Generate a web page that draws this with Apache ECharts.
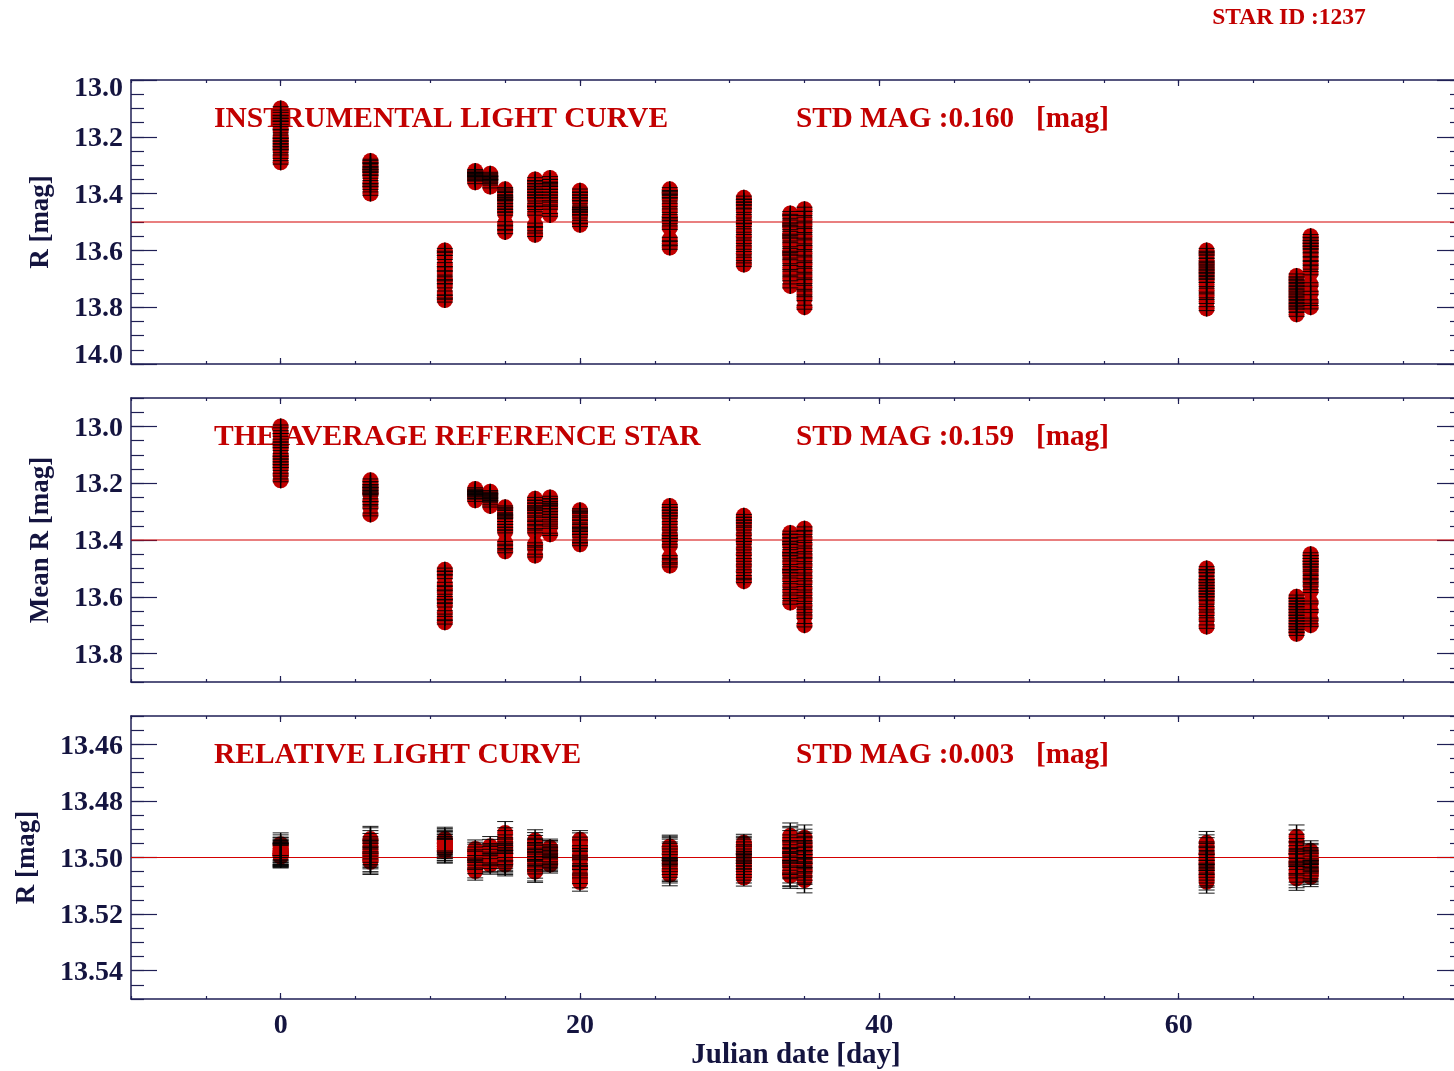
<!DOCTYPE html>
<html>
<head>
<meta charset="utf-8">
<title>STAR ID 1237 light curves</title>
<script src="https://cdn.jsdelivr.net/npm/echarts@6/dist/echarts.min.js"></script>
<style>
  html, body { margin: 0; padding: 0; background: #ffffff; overflow: hidden; }
  #chart { width: 1480px; height: 1071px; }
</style>
</head>
<body>
<div id="chart"></div>
<script>
// Observing nights (days from the first night)
const nightDays = [0.0, 6.0, 10.97, 13.0, 14.0, 15.0, 17.0, 18.0, 20.0, 26.0, 30.95, 34.05, 35.0, 61.87, 67.88, 68.82];

// Instrumental R magnitudes of the target, one list per night
const instMag = [
  [13.10, 13.12, 13.13, 13.14, 13.15, 13.17, 13.18, 13.20, 13.21, 13.22, 13.23, 13.24, 13.25, 13.27, 13.29],
  [13.285, 13.29, 13.30, 13.31, 13.315, 13.32, 13.33, 13.34, 13.36, 13.37, 13.38, 13.40],
  [13.60, 13.61, 13.625, 13.65, 13.665, 13.68, 13.70, 13.71, 13.725, 13.75, 13.765, 13.775],
  [13.32, 13.325, 13.33, 13.33, 13.335, 13.34, 13.345, 13.35, 13.36],
  [13.33, 13.335, 13.34, 13.345, 13.345, 13.35, 13.355, 13.36, 13.375],
  [13.385, 13.39, 13.40, 13.41, 13.415, 13.42, 13.43, 13.44, 13.45, 13.46, 13.47, 13.505, 13.52, 13.535],
  [13.35, 13.36, 13.37, 13.38, 13.39, 13.40, 13.41, 13.42, 13.44, 13.45, 13.47, 13.51, 13.525, 13.545],
  [13.345, 13.355, 13.365, 13.37, 13.38, 13.39, 13.40, 13.41, 13.42, 13.435, 13.45, 13.475],
  [13.39, 13.40, 13.41, 13.42, 13.43, 13.45, 13.455, 13.46, 13.47, 13.48, 13.50, 13.51],
  [13.385, 13.395, 13.40, 13.41, 13.42, 13.44, 13.46, 13.48, 13.49, 13.50, 13.52, 13.56, 13.575, 13.59],
  [13.415, 13.425, 13.435, 13.445, 13.46, 13.48, 13.50, 13.51, 13.53, 13.55, 13.57, 13.59, 13.61, 13.63, 13.65],
  [13.47, 13.48, 13.50, 13.51, 13.52, 13.54, 13.55, 13.56, 13.58, 13.60, 13.61, 13.62, 13.64, 13.66, 13.68, 13.70, 13.725],
  [13.455, 13.47, 13.49, 13.51, 13.53, 13.55, 13.57, 13.59, 13.61, 13.63, 13.65, 13.67, 13.69, 13.71, 13.73, 13.75, 13.77, 13.80],
  [13.60, 13.61, 13.62, 13.635, 13.645, 13.655, 13.665, 13.675, 13.685, 13.695, 13.705, 13.72, 13.74, 13.76, 13.78, 13.805],
  [13.69, 13.70, 13.71, 13.72, 13.73, 13.74, 13.75, 13.76, 13.77, 13.78, 13.79, 13.80, 13.81, 13.825],
  [13.55, 13.56, 13.57, 13.58, 13.59, 13.60, 13.615, 13.63, 13.645, 13.66, 13.68, 13.72, 13.75, 13.78, 13.80]
];

// Mean R magnitude of the comparison stars, one list per night
const refMag = [
  [13.00, 13.02, 13.03, 13.05, 13.06, 13.07, 13.08, 13.10, 13.11, 13.12, 13.13, 13.14, 13.15, 13.17, 13.19],
  [13.19, 13.20, 13.21, 13.215, 13.22, 13.23, 13.235, 13.24, 13.26, 13.27, 13.285, 13.31],
  [13.505, 13.515, 13.53, 13.555, 13.57, 13.585, 13.605, 13.615, 13.63, 13.655, 13.675, 13.69],
  [13.22, 13.225, 13.23, 13.235, 13.235, 13.24, 13.245, 13.25, 13.26],
  [13.23, 13.235, 13.24, 13.245, 13.25, 13.255, 13.26, 13.265, 13.28],
  [13.285, 13.29, 13.30, 13.31, 13.315, 13.32, 13.33, 13.34, 13.35, 13.36, 13.37, 13.41, 13.425, 13.44],
  [13.255, 13.265, 13.275, 13.285, 13.29, 13.30, 13.31, 13.325, 13.34, 13.355, 13.37, 13.415, 13.43, 13.455],
  [13.25, 13.26, 13.27, 13.275, 13.285, 13.295, 13.305, 13.315, 13.325, 13.34, 13.355, 13.38],
  [13.295, 13.30, 13.31, 13.325, 13.335, 13.35, 13.36, 13.365, 13.375, 13.385, 13.405, 13.415],
  [13.28, 13.29, 13.30, 13.31, 13.32, 13.34, 13.36, 13.38, 13.39, 13.40, 13.42, 13.46, 13.475, 13.49],
  [13.315, 13.325, 13.335, 13.345, 13.36, 13.38, 13.40, 13.41, 13.43, 13.45, 13.47, 13.49, 13.51, 13.53, 13.545],
  [13.375, 13.385, 13.40, 13.41, 13.42, 13.44, 13.45, 13.46, 13.48, 13.50, 13.51, 13.52, 13.54, 13.56, 13.58, 13.60, 13.62],
  [13.36, 13.375, 13.395, 13.415, 13.435, 13.455, 13.47, 13.49, 13.51, 13.53, 13.55, 13.57, 13.59, 13.61, 13.63, 13.65, 13.67, 13.70],
  [13.50, 13.51, 13.52, 13.535, 13.545, 13.555, 13.565, 13.575, 13.585, 13.595, 13.605, 13.62, 13.64, 13.66, 13.68, 13.705],
  [13.60, 13.61, 13.62, 13.63, 13.64, 13.65, 13.66, 13.67, 13.68, 13.69, 13.70, 13.71, 13.72, 13.73],
  [13.45, 13.46, 13.47, 13.48, 13.49, 13.50, 13.515, 13.53, 13.545, 13.56, 13.58, 13.62, 13.65, 13.68, 13.70]
];

// Differential (relative) R magnitudes, one list per night
const relMag = [
  [13.4995, 13.4990, 13.4985, 13.4960, 13.4975, 13.4988, 13.4997, 13.4980, 13.4992, 13.4970, 13.4953, 13.4985, 13.4978, 13.4990, 13.4968],
  [13.4995, 13.4960, 13.5010, 13.4940, 13.4985, 13.4972, 13.5005, 13.4950, 13.4990, 13.4935, 13.4980, 13.5015],
  [13.4960, 13.4945, 13.4975, 13.4950, 13.4935, 13.4968, 13.4955, 13.4978, 13.4940, 13.4962, 13.4948, 13.4970],
  [13.5010, 13.4985, 13.5040, 13.4970, 13.5025, 13.4995, 13.5048, 13.5005, 13.4978],
  [13.5005, 13.4960, 13.5020, 13.4985, 13.5015, 13.4970, 13.4995, 13.5025, 13.4990],
  [13.4990, 13.5020, 13.4960, 13.5010, 13.4913, 13.4985, 13.5025, 13.4975, 13.5005, 13.4945, 13.4998, 13.4970, 13.5015, 13.4935],
  [13.5020, 13.4960, 13.5045, 13.4990, 13.4940, 13.5010, 13.4975, 13.5035, 13.4985, 13.4950, 13.5005, 13.4995, 13.5050, 13.4970],
  [13.5000, 13.4975, 13.5020, 13.4990, 13.5010, 13.4965, 13.5025, 13.4985, 13.5005, 13.4970, 13.5015, 13.4995],
  [13.4990, 13.5040, 13.4945, 13.5010, 13.5087, 13.4970, 13.5030, 13.4937, 13.5060, 13.5000, 13.4960, 13.5075],
  [13.5000, 13.4965, 13.5040, 13.4985, 13.5060, 13.4975, 13.5020, 13.4961, 13.5050, 13.4990, 13.5030, 13.4970, 13.5010, 13.5045],
  [13.5010, 13.4960, 13.5050, 13.4990, 13.5071, 13.4948, 13.5030, 13.4975, 13.5060, 13.5000, 13.4965, 13.5040, 13.4985, 13.5020, 13.4955],
  [13.5000, 13.4940, 13.5055, 13.4975, 13.5030, 13.4923, 13.5064, 13.4990, 13.5015, 13.4950, 13.5045, 13.4965, 13.5025, 13.4985, 13.5058, 13.4935, 13.5010],
  [13.5005, 13.4960, 13.5050, 13.4985, 13.5080, 13.4930, 13.5035, 13.4970, 13.5020, 13.4945, 13.5065, 13.4990, 13.5010, 13.4955, 13.5045, 13.4975, 13.5025, 13.4995],
  [13.5000, 13.5040, 13.4960, 13.5075, 13.4985, 13.5020, 13.5060, 13.4948, 13.5030, 13.5086, 13.4990, 13.5050, 13.4970, 13.5015, 13.5065, 13.5005],
  [13.5000, 13.4945, 13.5055, 13.4975, 13.5074, 13.4927, 13.5030, 13.4990, 13.5045, 13.4960, 13.5015, 13.5065, 13.4985, 13.5020],
  [13.5010, 13.5040, 13.4976, 13.5055, 13.5000, 13.5068, 13.4990, 13.5030, 13.5015, 13.5060, 13.4985, 13.5045, 13.5020, 13.5005, 13.5050]
];

// Typical photometric error per night [mag]
const instErr = [0.006, 0.006, 0.007, 0.005, 0.005, 0.006, 0.006, 0.005, 0.006, 0.006, 0.006, 0.007, 0.007, 0.007, 0.007, 0.006];
const refErr  = [0.005, 0.005, 0.006, 0.004, 0.004, 0.005, 0.005, 0.004, 0.005, 0.005, 0.005, 0.006, 0.006, 0.006, 0.006, 0.005];
const relErr  = [0.0040, 0.0045, 0.0042, 0.0032, 0.0034, 0.0040, 0.0038, 0.0030, 0.0032, 0.0040, 0.0030, 0.0045, 0.0045, 0.0040, 0.0042, 0.0035];

// Panel captions and statistics
const panelTitles = ['INSTRUMENTAL LIGHT CURVE', 'THE AVERAGE REFERENCE STAR', 'RELATIVE LIGHT CURVE'];
const stdMag = ['0.160', '0.159', '0.003'];
const yNames = ['R [mag]', 'Mean R [mag]', 'R [mag]'];
const starId = '1237';

// Axis ranges and tick labels
const dayRange = [-10, 79];
const dayTicks = [0, 20, 40, 60];
const yRanges = [[13.0, 14.0], [12.9, 13.9], [13.45, 13.55]];
const yTicks = [
  [13.0, 13.2, 13.4, 13.6, 13.8, 14.0],
  [13.0, 13.2, 13.4, 13.6, 13.8],
  [13.46, 13.48, 13.50, 13.52, 13.54]
];
const yMinorStep = [0.05, 0.05, 0.005];
const yDecimals = [1, 1, 2];
const meanLevels = [13.5, 13.4, 13.5];

// ---- styling ----
const FONT = 'Liberation Serif';
const NAVY = '#14143f';
const AXIS = '#1f1f55';
const RED = '#c20000';
const LINE_RED = '#d40000';

const grids = [
  { left: 131, top: 80, width: 1332, height: 284 },
  { left: 131, top: 398, width: 1332, height: 284 },
  { left: 131, top: 716, width: 1332, height: 283 }
];

const xAxes = [];
const yAxes = [];
const series = [];
const graphics = [];

function tickStyle(len) {
  return { show: true, inside: true, length: len, lineStyle: { color: AXIS, width: 1.2 } };
}

grids.forEach((g, p) => {
  const base = xAxes.length;
  const last = p === grids.length - 1;
  // bottom major (labels on the lowest panel only)
  xAxes.push({
    type: 'value', gridIndex: p, position: 'bottom', min: dayRange[0], max: dayRange[1],
    axisLine: { show: true, onZero: false, lineStyle: { color: AXIS, width: 1.5 } },
    axisTick: Object.assign(tickStyle(6), { customValues: dayTicks }),
    axisLabel: {
      show: last, customValues: dayTicks, margin: 13,
      fontFamily: FONT, fontWeight: 'bold', fontSize: 28, color: NAVY
    },
    splitLine: { show: false }
  });
  // bottom minor
  xAxes.push({
    type: 'value', gridIndex: p, position: 'bottom', min: dayRange[0], max: dayRange[1], interval: 5,
    axisLine: { show: false, onZero: false }, axisTick: tickStyle(3),
    axisLabel: { show: false }, splitLine: { show: false }
  });
  // top major
  xAxes.push({
    type: 'value', gridIndex: p, position: 'top', min: dayRange[0], max: dayRange[1],
    axisLine: { show: true, onZero: false, lineStyle: { color: AXIS, width: 1.5 } },
    axisTick: Object.assign(tickStyle(6), { customValues: dayTicks }),
    axisLabel: { show: false }, splitLine: { show: false }
  });
  // top minor
  xAxes.push({
    type: 'value', gridIndex: p, position: 'top', min: dayRange[0], max: dayRange[1], interval: 5,
    axisLine: { show: false, onZero: false }, axisTick: tickStyle(3),
    axisLabel: { show: false }, splitLine: { show: false }
  });

  const yb = yAxes.length;
  const [ymin, ymax] = yRanges[p];
  const dec = yDecimals[p];
  // left major with labels; the end labels sit just inside the frame
  yAxes.push({
    type: 'value', gridIndex: p, position: 'left', inverse: true, min: ymin, max: ymax,
    axisLine: { show: true, onZero: false, lineStyle: { color: AXIS, width: 1.5 } },
    axisTick: Object.assign(tickStyle(26), { customValues: yTicks[p] }),
    axisLabel: {
      customValues: yTicks[p], margin: 8,
      formatter: v => {
        const s = Number(v).toFixed(dec);
        if (Math.abs(v - ymin) < 1e-9) return '{first|' + s + '}';
        if (Math.abs(v - ymax) < 1e-9) return '{final|' + s + '}';
        return '{mid|' + s + '}';
      },
      rich: {
        mid: { padding: [4, 0, 0, 0] },
        first: { padding: [18, 0, 0, 0] },
        final: { padding: [0, 0, 16, 0] }
      },
      fontFamily: FONT, fontWeight: 'bold', fontSize: 28, color: NAVY
    },
    splitLine: { show: false }
  });
  // left minor
  yAxes.push({
    type: 'value', gridIndex: p, position: 'left', offset: 0, inverse: true, min: ymin, max: ymax,
    interval: yMinorStep[p],
    axisLine: { show: false, onZero: false }, axisTick: tickStyle(13),
    axisLabel: { show: false }, splitLine: { show: false }
  });
  // right major
  yAxes.push({
    type: 'value', gridIndex: p, position: 'right', offset: 0, inverse: true, min: ymin, max: ymax,
    axisLine: { show: true, onZero: false, lineStyle: { color: AXIS, width: 1.5 } },
    axisTick: Object.assign(tickStyle(26), { customValues: yTicks[p] }),
    axisLabel: { show: false }, splitLine: { show: false }
  });
  // right minor
  yAxes.push({
    type: 'value', gridIndex: p, position: 'right', offset: 0, inverse: true, min: ymin, max: ymax,
    interval: yMinorStep[p],
    axisLine: { show: false, onZero: false }, axisTick: tickStyle(13),
    axisLabel: { show: false }, splitLine: { show: false }
  });

  const mags = [instMag, refMag, relMag][p];
  const errs = [instErr, refErr, relErr][p];
  const pts = [];
  nightDays.forEach((d, i) => {
    mags[i].forEach(m => pts.push([d, m, errs[i]]));
  });

  // mean level across the whole panel, beneath the measurements
  series.push({
    type: 'custom', xAxisIndex: base, yAxisIndex: yb, silent: true, z: 1,
    data: [[meanLevels[p]]],
    renderItem: (params, api) => {
      const v = api.value(0);
      const a = api.coord([dayRange[0], v]);
      const b = api.coord([dayRange[1], v]);
      return {
        type: 'line',
        shape: { x1: a[0], y1: a[1], x2: b[0], y2: b[1] },
        style: { stroke: LINE_RED, lineWidth: 1.2 }
      };
    },
    animation: false
  });
  // filled red measurement symbols
  series.push({
    type: 'scatter', xAxisIndex: base, yAxisIndex: yb, silent: true, z: 3,
    data: pts, symbol: 'circle', symbolSize: 16,
    itemStyle: { color: RED, opacity: 1 }, animation: false
  });
  // black error bars with caps, plus the vertical stroke of the marker
  series.push({
    type: 'custom', xAxisIndex: base, yAxisIndex: yb, silent: true, z: 4,
    data: pts,
    renderItem: (params, api) => {
      const x = api.value(0), y = api.value(1), e = api.value(2);
      const c = api.coord([x, y]);
      const a = api.coord([x, y - e]);
      const b = api.coord([x, y + e]);
      const y1 = Math.min(a[1], b[1], c[1] - 8);
      const y2 = Math.max(a[1], b[1], c[1] + 8);
      const cap = { stroke: '#000000', lineWidth: 0.9 };
      return {
        type: 'group',
        children: [
          { type: 'line', shape: { x1: c[0], y1: y1, x2: c[0], y2: y2 }, style: { stroke: '#000000', lineWidth: 1.5 } },
          { type: 'line', shape: { x1: c[0] - 8, y1: a[1], x2: c[0] + 8, y2: a[1] }, style: cap },
          { type: 'line', shape: { x1: c[0] - 8, y1: b[1], x2: c[0] + 8, y2: b[1] }, style: cap }
        ]
      };
    },
    animation: false
  });

  // panel captions (drawn beneath the data)
  const ty = g.top + 39;
  graphics.push({
    type: 'text', x: 214, y: ty, z: 0, silent: true,
    style: { text: panelTitles[p], fill: RED, font: `bold 29.5px "${FONT}"`, align: 'left', verticalAlign: 'middle' }
  });
  graphics.push({
    type: 'text', x: 796, y: ty, z: 0, silent: true,
    style: { text: 'STD MAG :' + stdMag[p] + '   [mag]', fill: RED, font: `bold 29.2px "${FONT}"`, align: 'left', verticalAlign: 'middle' }
  });
  // y axis title
  graphics.push({
    type: 'text', x: p === 2 ? 27 : 41, y: g.top + g.height / 2, rotation: Math.PI / 2, z: 0, silent: true,
    style: { text: yNames[p], fill: NAVY, font: `bold 27px "${FONT}"`, align: 'center', verticalAlign: 'middle' }
  });
});

graphics.push({
  type: 'text', x: 796, y: 1056, z: 0, silent: true,
  style: { text: 'Julian date [day]', fill: NAVY, font: `bold 29px "${FONT}"`, align: 'center', verticalAlign: 'middle' }
});
graphics.push({
  type: 'text', x: 1289, y: 18, z: 0, silent: true,
  style: { text: 'STAR ID :' + starId, fill: RED, font: `bold 23.5px "${FONT}"`, align: 'center', verticalAlign: 'middle' }
});

const chart = echarts.init(document.getElementById('chart'), null, { renderer: 'canvas' });
chart.setOption({
  backgroundColor: '#ffffff',
  animation: false,
  textStyle: { fontFamily: FONT, fontWeight: 'bold' },
  grid: grids,
  xAxis: xAxes,
  yAxis: yAxes,
  series: series,
  graphic: { elements: graphics }
});
</script>
</body>
</html>
